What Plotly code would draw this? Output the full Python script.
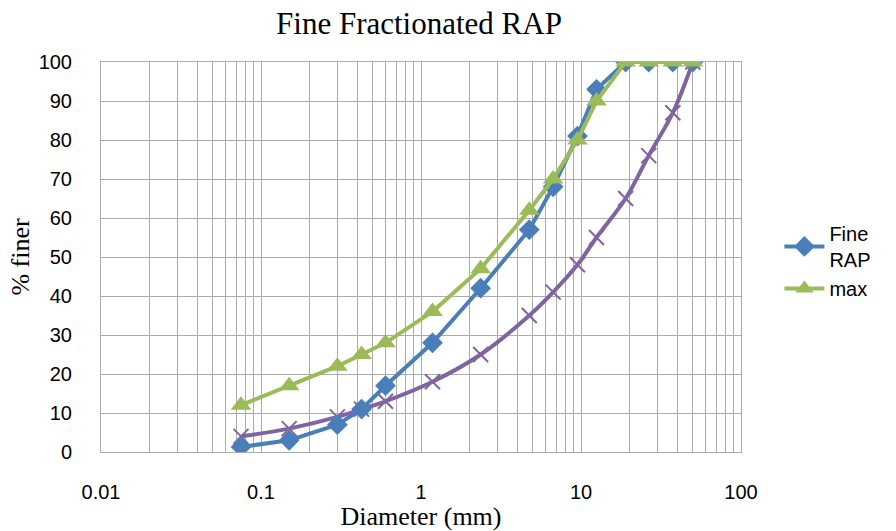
import plotly.graph_objects as go

diameter = [0.075, 0.15, 0.3, 0.425, 0.6, 1.18, 2.36, 4.75, 6.7, 9.5, 12.5, 19, 26.5, 37.5, 50]
fine_rap = [1.3, 3, 7, 11, 17, 28, 42, 57, 68, 81, 93, 100, 100, 100, 100]
max_spec = [12, 17, 22, 25, 28, 36, 47, 62, 70, 80, 90, 100, 100, 100, 100]
min_spec = [4, 6, 9, 11, 13, 18, 25, 35, 41, 48, 55, 65, 76, 87, 100]

x_tickvals = [0.01, 0.1, 1, 10, 100]
x_ticktext = ["0.01", "0.1", "1", "10", "100"]
y_tickvals = [0, 10, 20, 30, 40, 50, 60, 70, 80, 90, 100]

blue = "#4A7EBB"
green = "#9BBB59"
purple = "#8064A2"

fig = go.Figure()
fig.add_trace(go.Scatter(
    x=diameter, y=min_spec, name="min", mode="lines+markers",
    line=dict(color=purple, width=4, shape="spline"),
    marker=dict(symbol="x-thin", size=15, line=dict(color=purple, width=2), color=purple),
    showlegend=False,
))
fig.add_trace(go.Scatter(
    x=diameter, y=fine_rap, name="Fine<br>RAP", mode="lines+markers",
    line=dict(color=blue, width=4),
    marker=dict(symbol="diamond", size=16, color=blue),
))
fig.add_trace(go.Scatter(
    x=diameter, y=max_spec, name="max", mode="lines+markers",
    line=dict(color=green, width=4),
    marker=dict(symbol="triangle-up", size=18, color=green),
))

grid = "#ABABAB"
fig.update_layout(
    width=896, height=531,
    margin=dict(l=101, r=155, t=62, b=79),
    paper_bgcolor="white", plot_bgcolor="white",
    title=dict(text="Fine Fractionated RAP", x=419 / 896, xanchor="center",
               y=1 - 23 / 531, yanchor="middle",
               font=dict(family="Liberation Serif", size=31, color="black")),
    font=dict(family="Liberation Sans", size=20, color="black"),
    xaxis=dict(
        type="log", range=[-2, 2], automargin=False,
        tickvals=x_tickvals, ticktext=x_ticktext,
        showgrid=True, gridcolor=grid, gridwidth=1,
        minor=dict(dtick="D1", showgrid=True, gridcolor=grid, gridwidth=1),
        showline=True, linecolor=grid, linewidth=1, mirror=True,
        ticks="", ticklabelstandoff=22, zeroline=False,
        title=dict(text="Diameter (mm)", standoff=3,
                   font=dict(family="Liberation Serif", size=26, color="black")),
        tickfont=dict(family="Liberation Sans", size=20),
    ),
    yaxis=dict(
        range=[0, 100], tickvals=y_tickvals, automargin=False,
        showgrid=True, gridcolor=grid, gridwidth=1,
        showline=True, linecolor=grid, linewidth=1, mirror=True,
        ticks="", ticklabelstandoff=24, zeroline=False,
        title=dict(text="% finer", standoff=1,
                   font=dict(family="Liberation Serif", size=26, color="black")),
        tickfont=dict(family="Liberation Sans", size=20),
    ),
    legend=dict(x=1.06, y=0.49, xanchor="left", yanchor="middle",
                font=dict(family="Liberation Sans", size=20),
                bgcolor="rgba(0,0,0,0)", itemwidth=40, tracegroupgap=4),
)

fig.write_html("out.html")
